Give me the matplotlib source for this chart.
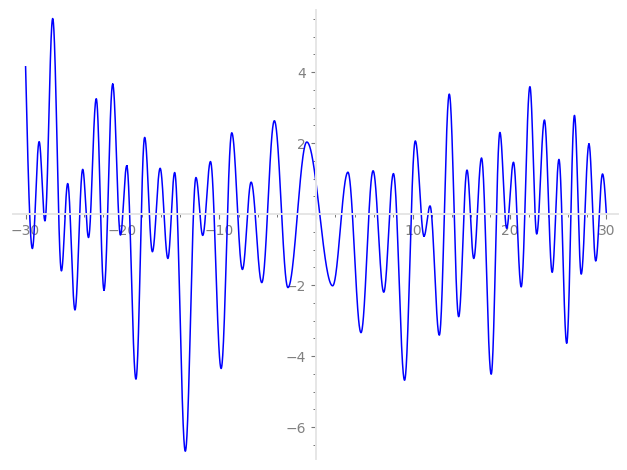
import numpy as np
import matplotlib
matplotlib.use("Agg")
import matplotlib.pyplot as plt
from matplotlib.ticker import MultipleLocator

# Local extrema of the curve (x, y), plus the two end points
ext_x = [-30.0, -29.3, -28.6, -28.0, -27.2, -26.3, -25.65, -24.9, -24.1, -23.5,
         -22.7, -21.9, -21.0, -20.2, -19.55, -18.6, -17.7, -16.9, -16.1, -15.3,
         -14.6, -13.5, -12.4, -11.7, -10.9, -9.8, -8.7, -7.6, -6.7, -5.6,
         -4.3, -2.9, -0.95, 1.72, 3.3, 4.65, 5.9, 7.0, 8.0, 9.15,
         10.26, 11.16, 11.78, 12.74, 13.77, 14.74, 15.6, 16.3, 17.1, 18.1,
         19.0, 19.7, 20.4, 21.2, 22.1, 22.8, 23.6, 24.4, 25.1, 25.9,
         26.7, 27.4, 28.2, 28.9, 29.6, 30.0]
ext_y = [4.15, -0.97, 2.04, -0.19, 5.51, -1.60, 0.86, -2.70, 1.26, -0.66,
         3.25, -2.14, 3.66, -0.59, 1.36, -4.65, 2.16, -1.06, 1.29, -1.25,
         1.17, -6.68, 1.03, -0.60, 1.48, -4.35, 2.29, -1.56, 0.90, -1.93,
         2.63, -2.07, 2.03, -2.02, 1.18, -3.34, 1.22, -2.20, 1.14, -4.68,
         2.06, -0.62, 0.23, -3.41, 3.38, -2.89, 1.24, -1.25, 1.58, -4.51,
         2.30, -0.40, 1.46, -2.05, 3.59, -0.56, 2.65, -1.64, 1.54, -3.64,
         2.78, -1.69, 1.97, -1.32, 1.13, 0.0]


def smooth_curve(xs, ys, n=60):
    """Sinusoidal segments between consecutive extrema (zero slope at extrema)."""
    X, Y = [], []
    last = len(xs) - 2
    for i in range(len(xs) - 1):
        s = np.linspace(0, 1, n)
        x0, x1, y0, y1 = xs[i], xs[i + 1], ys[i], ys[i + 1]
        if i == 0:          # start point is not an extremum
            w = np.sin(np.pi / 2 * s)
            w = 1 - np.cos(np.pi / 2 * (s + 1))  # from 0 slope-max to 1 flat
            w = np.sin(np.pi / 2 * s)
        if i == 0:
            w = np.sin(np.pi / 2 * s)
        elif i == last:     # end point is not an extremum
            w = 1 - np.cos(np.pi / 2 * s)
        else:
            w = (1 - np.cos(np.pi * s)) / 2
        X.append(x0 + (x1 - x0) * s)
        Y.append(y0 + (y1 - y0) * w)
    return np.concatenate(X), np.concatenate(Y)


cx, cy = smooth_curve(ext_x, ext_y)

W, H = 627, 470
fig = plt.figure(figsize=(W / 100, H / 100), dpi=100)
ax = fig.add_axes([13 / W, 11 / H, (618 - 13) / W, (459 - 10) / H])

ax.plot(cx, cy, color="#0000ff", lw=1.1, solid_joinstyle="round")

ax.set_xlim(-31.30, 31.20)
ax.set_ylim(-6.90, 5.75)

for side in ("top", "right"):
    ax.spines[side].set_visible(False)
for side in ("left", "bottom"):
    ax.spines[side].set_position(("data", 0))
    ax.spines[side].set_color("#e6e6e6")
    ax.spines[side].set_linewidth(1.4)

ax.xaxis.set_major_locator(MultipleLocator(10))
ax.xaxis.set_minor_locator(MultipleLocator(2))
ax.yaxis.set_major_locator(MultipleLocator(2))
ax.yaxis.set_minor_locator(MultipleLocator(0.5))

def fmt(v, pos):
    if abs(v) < 1e-9:
        return ""
    return "\u2212%d" % abs(round(v)) if v < 0 else "%d" % round(v)

ax.xaxis.set_major_formatter(plt.FuncFormatter(fmt))
ax.yaxis.set_major_formatter(plt.FuncFormatter(fmt))

ax.tick_params(which="major", length=3.6, width=0.8, color="#777777",
               labelcolor="#808080", labelsize=10, direction="out", pad=3.5)
ax.tick_params(which="minor", length=2.0, width=0.7, color="#777777", direction="out")

ax.set_facecolor("white")
fig.savefig("out.png", dpi=100, facecolor="white")
